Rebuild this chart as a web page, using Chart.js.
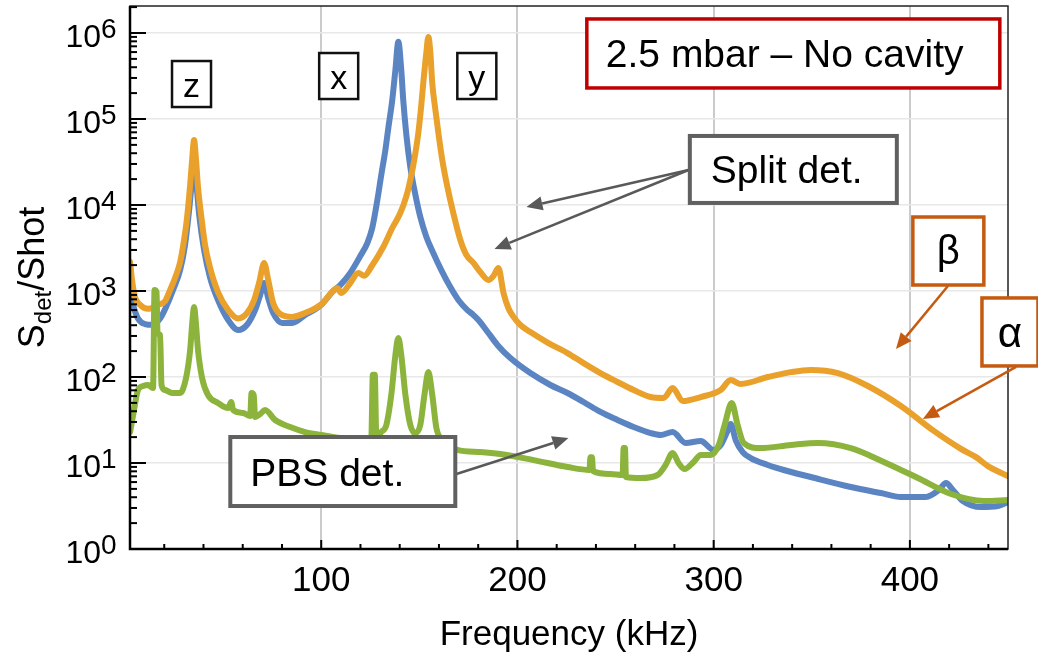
<!DOCTYPE html>
<html>
<head>
<meta charset="utf-8">
<script src="https://cdn.jsdelivr.net/npm/chart.js@4.4.1/dist/chart.umd.min.js"></script>
<style>
  html, body { margin: 0; padding: 0; background: #fff; }
</style>
</head>
<body>
<canvas id="spectrum" width="1038" height="656"></canvas>
<script>
// ========================================
// Spectra: frequency in kHz, signal normalised to shot noise
// ========================================

const blueFreq = [2.6, 4.1, 6.6, 10.2, 13.8, 17.9, 21.4, 24.5, 28.1, 30.6, 32.7, 34.2, 35.2, 36.2, 37.8, 40.3, 43.4, 47.4, 52.6, 57.7,
    62.2, 66.3, 68.9, 70.9, 73.0, 75.5, 80.1, 85.2, 91.8, 100, 106.1, 109.7, 114.8, 119.9, 123.5, 126, 128.6, 130.6, 132.7, 134.2,
    136.2, 137.8, 139.3, 140.8, 141.8, 143.4, 145.4, 148, 150.5, 153.6, 157.1, 161.2, 165.8, 169.9, 174.5, 177, 180.1, 185.2, 189.8, 196.4,
    206.6, 216.8, 225.5, 233.7, 242.3, 251, 259.2, 267.9, 273, 279.1, 285.7, 293.4, 300, 303.6, 306.6, 308.7, 311.2, 314.8, 318.9, 327.6,
    335.7, 349.5, 369.9, 385.2, 395.4, 408.2, 414.8, 418.4, 421.9, 427, 436.2, 444.9, 450];
const blueVal = [980, 690, 480, 413, 405, 480, 690, 1030, 1750, 3430, 8750, 19500, 26900, 19500, 7650, 3000, 1420, 786, 460, 352,
    405, 600, 900, 1240, 820, 555, 425, 425, 525, 690, 1000, 1170, 1620, 2550, 3610, 5400, 11400, 22300, 43600, 78600,
    166000, 371000, 790000, 371000, 166000, 65000, 27700, 13100, 7250, 4250, 2770, 1750, 1110, 786, 600, 540, 460, 325, 236, 166,
    111, 80.7, 65.2, 51.2, 39.2, 31.6, 26.2, 22.3, 21.2, 22.9, 17.1, 18, 14.2, 16.2, 22.3, 28.4, 18.5, 13.4, 11.4, 9.48,
    8.29, 6.87, 5.26, 4.48, 4.02, 4.02, 4.85, 5.85, 4.85, 3.62, 3.08, 3.16, 3.52];

const orangeFreq = [2.6, 3.6, 5.1, 7.7, 11.7, 16.8, 20.4, 23.0, 25.5, 28.1, 30.1, 31.6, 33.2, 34.2, 35.2, 36.2, 37.2, 38.8, 40.8, 43.4,
    47.4, 52.6, 57.7, 62.2, 65.8, 68.4, 70.9, 73.0, 75.5, 79.1, 85.2, 91.8, 100, 106.1, 108.2, 110.2, 114.8, 118.9, 121.9, 126,
    131.6, 136.2, 140.3, 143.4, 145.4, 147.4, 149.5, 151.0, 152.0, 153.6, 154.6, 155.6, 156.6, 158.2, 159.7, 161.7, 164.3, 167.3, 170.9, 174.0,
    177.6, 181.1, 185.2, 187.8, 190.3, 192.9, 195.4, 198.0, 201.5, 206.6, 215.8, 225.5, 233.7, 242.3, 251, 259.2, 267.9, 274.5, 279.1, 284.2,
    293.4, 303.6, 308.7, 313.8, 327.6, 339.3, 349.5, 363.3, 378.6, 395.4, 412.2, 426, 433.7, 439.8, 450];
const orangeVal = [2170, 1340, 850, 690, 620, 690, 760, 1030, 1420, 2170, 3920, 7060, 17100, 33400, 57000, 33400, 16200, 7650, 3430, 1850,
    970, 600, 480, 555, 786, 1260, 2120, 1340, 725, 540, 500, 555, 700, 1000, 1080, 950, 1240, 1620, 1500, 1990,
    3250, 5400, 8070, 12700, 19500, 33400, 69000, 145000, 260000, 600000, 900000, 600000, 260000, 127000, 69000, 33400, 16200, 8070, 3920, 2620,
    2120, 1660, 1340, 1500, 1850, 950, 630, 500, 402, 333, 248, 190, 145, 111, 87.5, 70.6, 58.5, 57, 74.5, 52.6,
    58.5, 70.6, 92, 83, 100, 114, 121, 111, 78.6, 46, 23.6, 14.6, 11.7, 9.2, 7.06];

const greenFreq = [2.6, 4.6, 6.6, 9.2, 11.7, 14.3, 15.05, 16.07, 16.58, 17.86, 18.62, 20.4, 24, 28.1, 31.1, 33.2, 34.2, 35.2, 36.2, 37.2,
    39.3, 42.3, 47.4, 52.6, 54.1, 55.1, 60.2, 63.8, 64.5, 65.6, 66.3, 68.9, 71.4, 76.5, 84.2, 91.8, 100, 109.7, 119.9, 125.5,
    126.3, 127.3, 128.1, 130.6, 133.2, 135.7, 137.8, 139.3, 140.8, 142.9, 145.4, 148, 150.5, 152.6, 154.6, 156.6, 158.7, 161.7, 169.4, 181.1,
    191.3, 208.2, 225.5, 236.7, 237.2, 238, 238.5, 247.4, 253.6, 254.1, 254.8, 255.3, 262.8, 271.4, 275.5, 279.1, 282.1, 285.2, 289.8, 293.4,
    298.5, 302.6, 305.6, 309.2, 312.2, 315.3, 324, 339.3, 353.1, 369.9, 386.7, 404.1, 420.9, 437.8, 450];
const greenVal = [22.9, 41.3, 70.6, 78.6, 80.7, 74.5, 1030, 980, 325, 308, 80.7, 70.6, 65.2, 65.2, 97.3, 206, 405, 651, 405, 206,
    97.3, 61.8, 49.9, 43.6, 51.2, 41.3, 38.1, 35.2, 65.2, 61.8, 34.3, 37.1, 41.3, 31.6, 26.2, 22.9, 21.2, 19.5, 18.5, 18.5,
    106, 106, 19.5, 22.9, 27.7, 61.8, 180, 284, 180, 61.8, 27.7, 22.3, 27.7, 61.8, 114, 61.8, 25.5, 18.5, 14.2, 13.4,
    12.7, 10.8, 8.98, 8.29, 11.7, 11.7, 8.07, 7.45, 7.25, 14.9, 14.9, 6.87, 6.69, 7.25, 9.48, 13.1, 10, 8.51, 10.3, 12.4,
    12.4, 16.2, 27.7, 49.9, 27.7, 17.1, 14.9, 16.2, 17.1, 14.9, 10.3, 6.69, 4.36, 3.62, 3.71];

const xTickLabels = [100, 200, 300, 400];
const yDecades = [0, 1, 2, 3, 4, 5, 6];

const FONT = '"Liberation Sans", Arial, sans-serif';

// boxed labels, anchored in data coordinates (kHz, signal)
const labelBoxes = [
    { text: 'z', f: 33.9, v: 2.55e5, w: 39, h: 46, size: 34, base: 13, color: '#111', lw: 2.5 },
    { text: 'x', f: 108.9, v: 3.16e5, w: 39, h: 46, size: 34, base: 13, color: '#111', lw: 2.5 },
    { text: 'y', f: 179.3, v: 3.16e5, w: 39, h: 46, size: 34, base: 13, color: '#111', lw: 2.5 },
    { text: '2.5 mbar \u2013 No cavity', f: 340.6, v: 5.78e5, w: 413, h: 69, size: 39, base: 14, pad: 19, color: '#c00000', lw: 3.5 },
    { text: 'Split det.', f: 340.6, v: 2.59e4, w: 207, h: 67, size: 39, base: 14, pad: 21, color: '#606060', lw: 4 },
    { text: 'PBS det.', f: 111, v: 7.96, w: 225, h: 69, size: 39, base: 14, pad: 20, color: '#606060', lw: 4 },
    { text: '\u03b2', f: 419.6, v: 2917, w: 71, h: 68, size: 40, base: 13, color: '#c55a11', lw: 3.5 },
    { text: '\u03b1', f: 451, v: 334, w: 56, h: 68, size: 42, base: 15, color: '#c55a11', lw: 3.5 }
];

// arrows: [fromFreq, fromVal, toFreq, toVal]
const pointerArrows = [
    { p: [287.2, 2.55e4, 204.6, 9480], color: '#595959' },
    { p: [287.2, 2.55e4, 188.3, 3080], color: '#595959' },
    { p: [168.9, 7.45, 226.0, 19.5], color: '#595959' },
    { p: [419.4, 1143, 392.9, 212], color: '#c55a11' },
    { p: [454.1, 131, 406.6, 32.5], color: '#c55a11' }
];

const toPoints = (xs, ys) => xs.map((f, i) => ({ x: f, y: ys[i] }));

function drawArrow(ctx, x0, y0, x1, y1, color) {
    const ang = Math.atan2(y1 - y0, x1 - x0);
    const head = 16, half = 7;
    const bx = x1 - head * Math.cos(ang), by = y1 - head * Math.sin(ang);
    ctx.strokeStyle = color;
    ctx.fillStyle = color;
    ctx.lineWidth = 2.5;
    ctx.beginPath();
    ctx.moveTo(x0, y0);
    ctx.lineTo(bx, by);
    ctx.stroke();
    ctx.beginPath();
    ctx.moveTo(x1, y1);
    ctx.lineTo(bx + half * Math.sin(ang), by - half * Math.cos(ang));
    ctx.lineTo(bx - half * Math.sin(ang), by + half * Math.cos(ang));
    ctx.closePath();
    ctx.fill();
}

// frame, inward ticks, tick labels, axis titles and the boxed labels
const decorations = {
    id: 'decorations',
    afterDraw(chart) {
        const { ctx, chartArea: a, scales: { x, y } } = chart;
        ctx.save();

        ctx.strokeStyle = '#222';
        ctx.lineWidth = 1.5;
        ctx.strokeRect(a.left, a.top, a.right - a.left, a.bottom - a.top);
        ctx.strokeStyle = '#000';
        ctx.lineWidth = 2.5;
        ctx.beginPath();
        ctx.moveTo(a.left, a.top);
        ctx.lineTo(a.left, a.bottom);
        ctx.lineTo(a.right, a.bottom);
        ctx.stroke();

        // x ticks every 20 kHz, long ones at the labels
        ctx.lineWidth = 2;
        for (let f = 20; f < x.max; f += 20) {
            const px = x.getPixelForValue(f);
            const len = f % 100 === 0 ? 9 : 5;
            ctx.beginPath();
            ctx.moveTo(px, a.bottom);
            ctx.lineTo(px, a.bottom - len);
            ctx.stroke();
        }
        // log minor ticks
        yDecades.forEach(d => {
            for (let m = 1; m < 10; m++) {
                const v = m * Math.pow(10, d);
                if (v > y.max) break;
                const py = y.getPixelForValue(v);
                ctx.beginPath();
                ctx.moveTo(a.left, py);
                ctx.lineTo(a.left + (m === 1 ? 16 : 7), py);
                ctx.stroke();
            }
        });

        ctx.fillStyle = '#000';
        ctx.textBaseline = 'alphabetic';

        ctx.font = '35px ' + FONT;
        ctx.textAlign = 'center';
        xTickLabels.forEach(f => ctx.fillText(String(f), x.getPixelForValue(f), 591));

        yDecades.forEach(d => {
            const py = y.getPixelForValue(Math.pow(10, d));
            ctx.font = '32px ' + FONT;
            ctx.textAlign = 'right';
            ctx.fillText('10', 101, py + 14);
            ctx.font = '28px ' + FONT;
            ctx.textAlign = 'left';
            ctx.fillText(String(d), 101, py + 5);
        });

        ctx.font = '35px ' + FONT;
        ctx.textAlign = 'center';
        ctx.fillText('Frequency (kHz)', (a.left + a.right) / 2, 645);

        // rotated y title with subscript
        ctx.save();
        ctx.translate(44, (a.top + a.bottom) / 2);
        ctx.rotate(-Math.PI / 2);
        ctx.textAlign = 'left';
        const main = '36px ' + FONT, sub = '24px ' + FONT;
        ctx.font = main;
        const wS = ctx.measureText('S').width, wShot = ctx.measureText('/Shot').width;
        ctx.font = sub;
        const wDet = ctx.measureText('det').width;
        let cx = -(wS + wDet + wShot) / 2;
        ctx.font = main;
        ctx.fillText('S', cx, 0);
        cx += wS;
        ctx.font = sub;
        ctx.fillText('det', cx, 7);
        cx += wDet;
        ctx.font = main;
        ctx.fillText('/Shot', cx, 0);
        ctx.restore();

        pointerArrows.forEach(({ p, color }) => {
            drawArrow(ctx, x.getPixelForValue(p[0]), y.getPixelForValue(p[1]),
                x.getPixelForValue(p[2]), y.getPixelForValue(p[3]), color);
        });

        labelBoxes.forEach(b => {
            const cxp = x.getPixelForValue(b.f), cyp = y.getPixelForValue(b.v);
            const left = cxp - b.w / 2, top = cyp - b.h / 2;
            ctx.fillStyle = '#fff';
            ctx.fillRect(left, top, b.w, b.h);
            ctx.strokeStyle = b.color;
            ctx.lineWidth = b.lw;
            ctx.strokeRect(left, top, b.w, b.h);
            ctx.fillStyle = '#000';
            ctx.font = b.size + 'px ' + FONT;
            if (b.pad !== undefined) {
                ctx.textAlign = 'left';
                ctx.fillText(b.text, left + b.pad, cyp + b.base);
            } else {
                ctx.textAlign = 'center';
                ctx.fillText(b.text, cxp, cyp + b.base);
            }
        });

        ctx.restore();
    }
};

const lineStyle = {
    pointRadius: 0,
    borderWidth: 6,
    cubicInterpolationMode: 'monotone',
    borderJoinStyle: 'round',
    borderCapStyle: 'round',
    clip: 0
};

new Chart(document.getElementById('spectrum').getContext('2d'), {
    type: 'line',
    data: {
        datasets: [
            { label: 'PBS det.', data: toPoints(greenFreq, greenVal), borderColor: '#8cb43c', order: 0, ...lineStyle },
            { label: 'Split det. (y)', data: toPoints(orangeFreq, orangeVal), borderColor: '#e9a12b', order: 1, ...lineStyle },
            { label: 'Split det. (x)', data: toPoints(blueFreq, blueVal), borderColor: '#5a85c2', order: 2, ...lineStyle }
        ]
    },
    options: {
        responsive: false,
        animation: false,
        devicePixelRatio: 1,
        parsing: false,
        normalized: true,
        layout: { padding: { left: 130, right: 30, top: 6, bottom: 107 } },
        plugins: { legend: { display: false }, tooltip: { enabled: false } },
        scales: {
            x: {
                type: 'linear',
                min: 2.55,
                max: 450,
                afterBuildTicks: s => { s.ticks = xTickLabels.map(v => ({ value: v })); },
                ticks: { display: false },
                border: { display: false },
                grid: { drawTicks: false, color: '#cbcbcb', lineWidth: 2 }
            },
            y: {
                type: 'logarithmic',
                min: 1,
                max: 2.06e6,
                afterBuildTicks: s => { s.ticks = yDecades.map(d => ({ value: Math.pow(10, d) })); },
                ticks: { display: false },
                border: { display: false },
                grid: { drawTicks: false, color: '#e8e8e8', lineWidth: 1.5 }
            }
        }
    },
    plugins: [decorations]
});
</script>
</body>
</html>
